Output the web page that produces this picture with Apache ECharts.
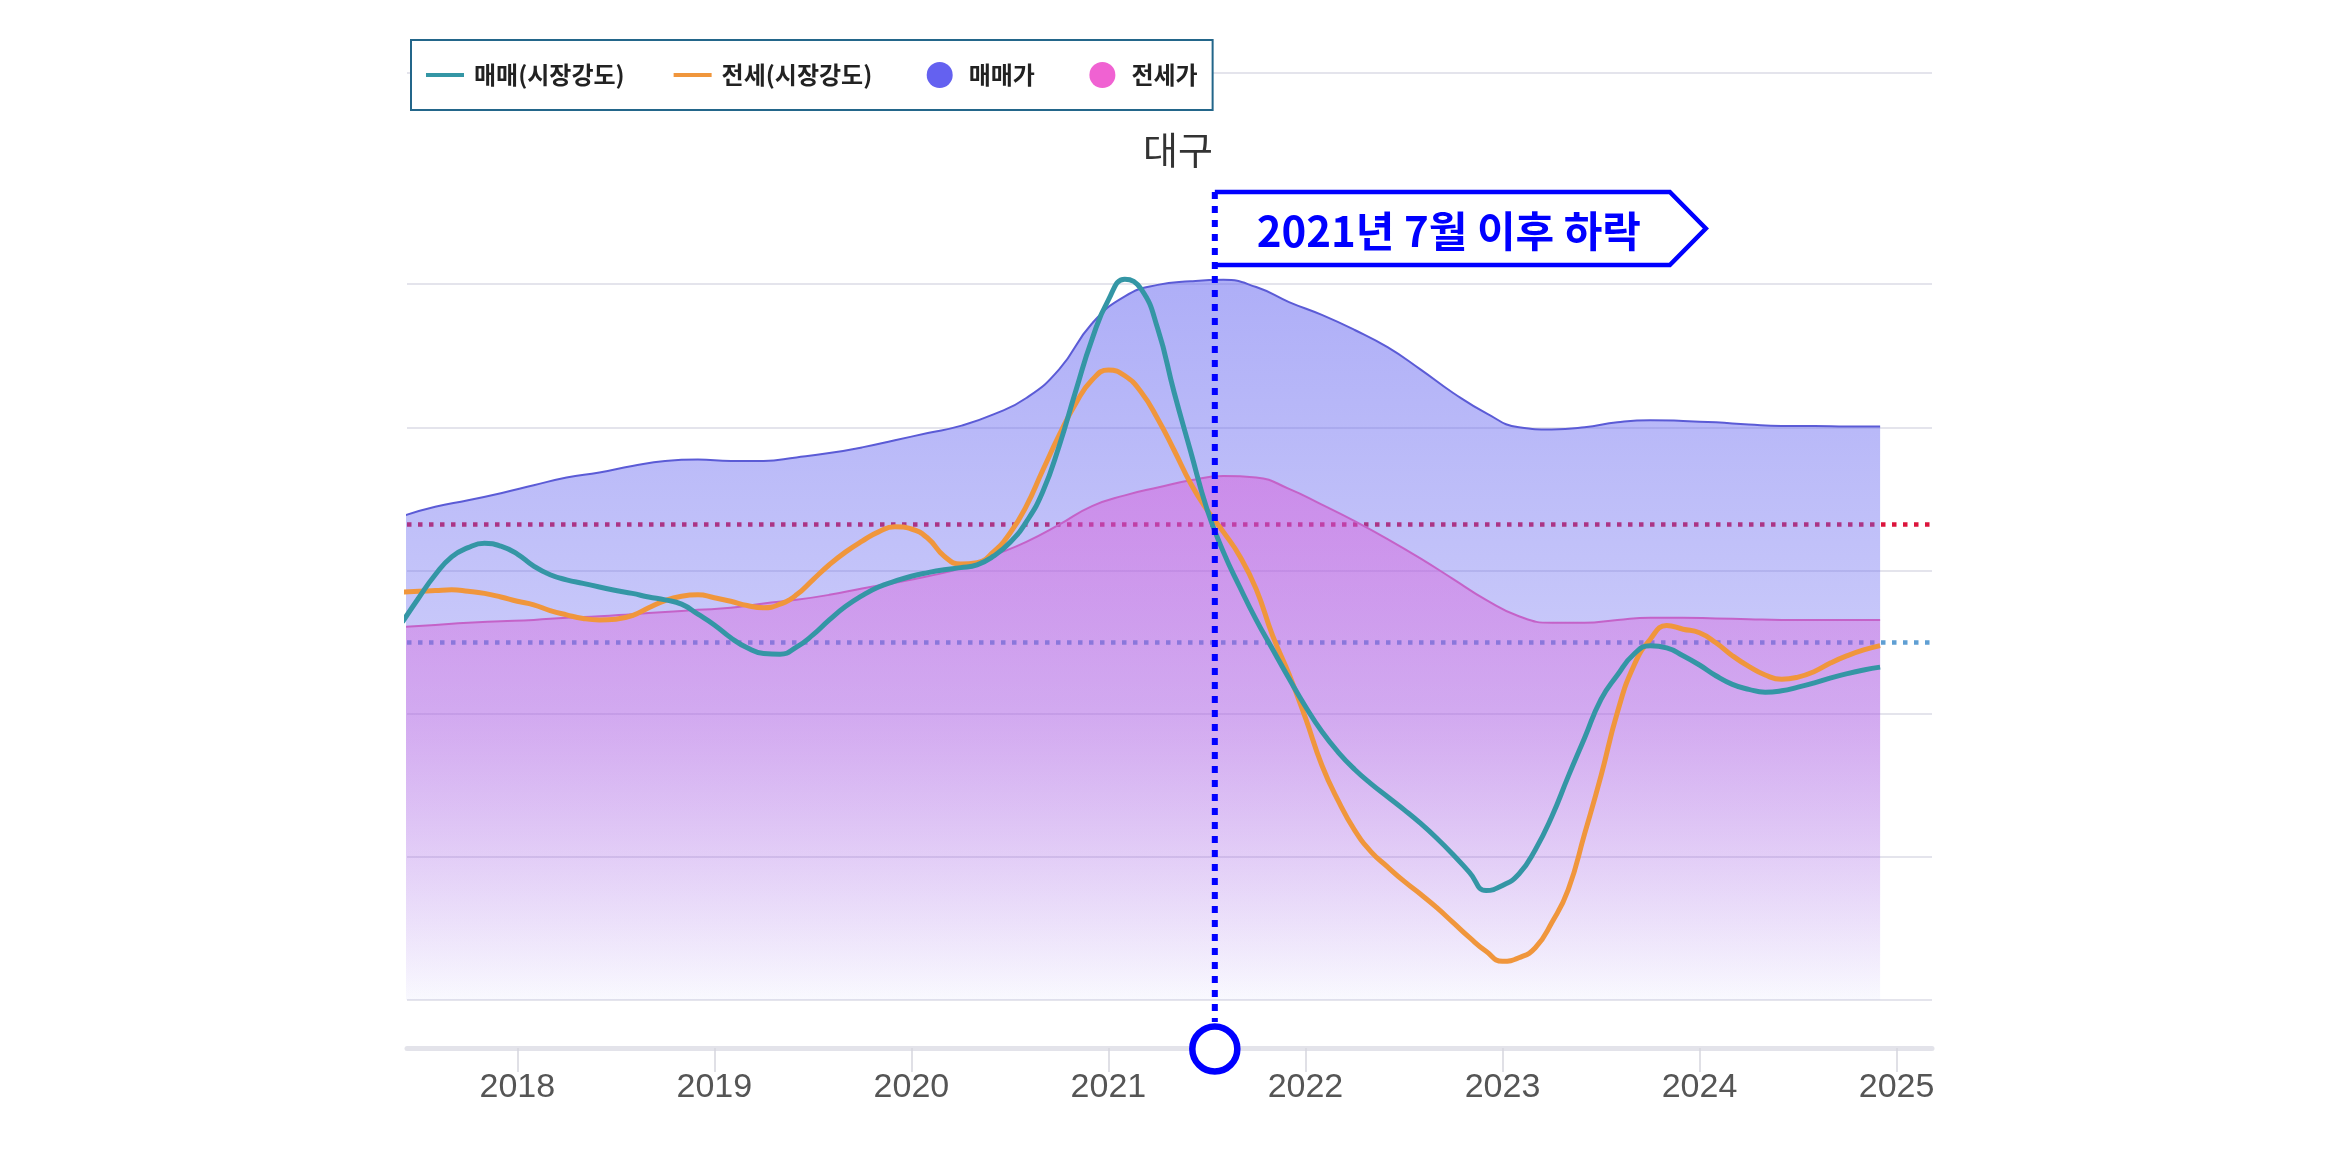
<!DOCTYPE html>
<html>
<head>
<meta charset="utf-8">
<script src="https://cdn.jsdelivr.net/npm/echarts@6/dist/echarts.min.js"></script>
<style>html,body{margin:0;padding:0;background:#fff}#c{width:2339px;height:1149px}</style>
</head>
<body>
<div id="c"></div>
<script>
// ---- data ----
// price indices (area series), every second month
const priceMonths = ['2017-06','2017-08','2017-10','2017-12',
  '2018-02','2018-04','2018-06','2018-08','2018-10','2018-12',
  '2019-02','2019-04','2019-06','2019-08','2019-10','2019-12',
  '2020-02','2020-04','2020-06','2020-08','2020-10','2020-12',
  '2021-02','2021-04','2021-06','2021-08','2021-10','2021-12',
  '2022-02','2022-04','2022-06','2022-08','2022-10','2022-12',
  '2023-02','2023-04','2023-06','2023-08','2023-10','2023-12',
  '2024-02','2024-04','2024-06','2024-08','2024-10','2024-12'];
const salePrice = [67.6,68.9,69.8,70.8,71.9,73.0,73.7,74.6,75.3,75.5,
  75.3,75.3,75.8,76.4,77.2,78.2,79.2,80.2,81.8,84.1,
  88.1,94.5,98.3,99.9,100.4,100.6,99.6,97.5,95.7,93.6,
  91.2,88.1,84.8,82.0,80.0,79.7,80.0,80.7,81.0,80.9,
  80.7,80.4,80.2,80.2,80.1,80.1];
const jeonsePrice = [52.1,52.4,52.7,52.9,53.1,53.4,53.6,53.9,54.2,54.5,
  54.8,55.4,55.9,56.6,57.5,58.3,59.2,60.3,62.1,64.0,
  66.4,69.0,70.5,71.6,72.6,73.2,73.0,71.4,69.2,66.9,
  64.4,61.7,58.8,55.9,53.6,52.7,52.7,53.1,53.4,53.4,
  53.3,53.2,53.1,53.1,53.1,53.1];
// market strength (line series), monthly from 2017-06 to 2024-12
const strengthStart = '2017-06';
const saleStrength = [52.8,56.2,59.4,61.9,63.2,63.8,63.4,62.3,60.6,59.4,
  58.7,58.2,57.7,57.2,56.8,56.3,55.9,55.3,53.9,52.4,
  50.6,49.2,48.4,48.3,49.3,51.0,53.1,55.0,56.5,57.7,
  58.5,59.2,59.7,60.1,60.4,60.8,62.0,63.9,66.8,71.0,
  77.4,85.0,92.3,97.8,100.7,99.3,93.8,84.9,76.7,68.6,
  62.6,57.7,53.1,49.0,44.9,41.0,37.5,34.6,32.2,30.2,
  28.4,26.6,24.7,22.6,20.3,17.8,15.3,16.0,17.6,21.0,
  25.6,31.2,36.6,42.0,45.4,48.3,49.5,49.2,48.1,46.8,
  45.3,44.1,43.4,43.0,43.2,43.7,44.3,45.0,45.6,46.1,
  46.5];
const jeonseStrength = [57.0,57.1,57.2,57.3,57.1,56.8,56.3,55.7,55.2,54.4,
  53.8,53.3,53.1,53.2,53.7,54.8,55.8,56.4,56.6,56.2,
  55.7,55.1,54.8,55.3,56.6,58.7,60.8,62.6,64.1,65.4,
  66.1,65.8,64.5,62.0,60.9,61.1,62.6,65.2,69.0,74.0,
  78.9,83.3,86.6,88.0,87.2,84.9,81.2,76.8,72.2,68.5,
  65.4,62.0,57.4,50.9,45.5,39.4,32.8,27.8,23.7,20.7,
  18.6,16.6,14.8,12.9,10.8,8.7,6.8,5.4,5.9,7.3,
  10.8,15.4,23.2,31.3,40.2,46.7,50.4,52.3,51.8,51.3,
  49.9,48.1,46.6,45.4,44.8,45.1,45.9,47.1,48.1,48.9,
  49.5];
const yearTicks = [2018,2019,2020,2021,2022,2023,2024,2025];
const yGridValues = [0,20,40,60,80,100,129.5];
const refLevels = [66.5, 50];
const annotationX = [2021.54];
const annotationText = '2021년 7월 이후 하락';
const titleText = '대구';
const seriesNames = ['매매(시장강도)','전세(시장강도)','매매가','전세가'];

// ---- chart ----
const toYear = s => +s.slice(0,4) + (+s.slice(5,7) - 1) / 12;
const pricePairs = arr => priceMonths.map((m, i) => [toYear(m), arr[i]]);
const monthlyPairs = arr => arr.map((v, i) => [toYear(strengthStart) + i / 12, v]);
const chart = echarts.init(document.getElementById('c'), null, {renderer: 'canvas'});
const linePath = 'path://M0,0L40,0L40,4L0,4Z';
const grad = (c, stops) => new echarts.graphic.LinearGradient(0, 0, 0, 1,
  stops.map(s => ({offset: s[0], color: 'rgba(' + c + ',' + s[1] + ')'})));

chart.setOption({
  animation: false,
  backgroundColor: '#fff',
  title: {
    text: titleText, left: 1143, top: 131, padding: 0,
    textStyle: {fontSize: 38, fontWeight: 'normal', color: '#333', fontFamily: '"Noto Sans CJK KR", sans-serif'}
  },
  legend: {
    left: 411, top: 40, orient: 'horizontal',
    padding: [22, 15, 22, 15],
    borderColor: '#23668a', borderWidth: 2, backgroundColor: '#fff',
    itemWidth: 38, itemHeight: 26, itemGap: 49,
    selectedMode: false,
    itemStyle: {borderWidth: 0},
    formatter: name => (name === seriesNames[1] || name === seriesNames[2]) ? name + ' ' : name,
    textStyle: {fontSize: 24, fontWeight: 'bold', color: '#222',
      fontFamily: '"Noto Sans CJK KR", sans-serif', padding: [0, 0, 0, 5]},
    data: [
      {name: seriesNames[0], icon: linePath},
      {name: seriesNames[1], icon: linePath},
      {name: seriesNames[2], icon: 'circle'},
      {name: seriesNames[3], icon: 'circle'}
    ]
  },
  grid: {left: 407, right: 407, top: 73, bottom: 149, containLabel: false, outerBoundsMode: 'none'},
  xAxis: {
    type: 'value', min: 2017.44, max: 2025.18, offset: 48,
    axisLine: {show: true, onZero: false, lineStyle: {color: '#e3e3ea', width: 5}},
    axisTick: {show: true, length: 24, customValues: yearTicks, lineStyle: {color: '#d6d6de', width: 1.5}},
    axisLabel: {
      customValues: yearTicks, margin: 23,
      formatter: v => String(Math.round(v)),
      fontSize: 34, color: '#555',
      fontFamily: '"Liberation Sans Narrow", "Liberation Sans", sans-serif'
    },
    splitLine: {show: false}
  },
  yAxis: {
    type: 'value', min: 0, max: 129.5,
    axisLine: {show: false},
    axisTick: {show: false, customValues: yGridValues},
    axisLabel: {show: false},
    splitLine: {show: true, lineStyle: {color: '#e4e4ec', width: 2}}
  },
  series: [
    {
      name: seriesNames[2], type: 'line', smooth: true, showSymbol: false, symbol: 'none', z: 2,
      data: pricePairs(salePrice),
      itemStyle: {color: '#6461f0'},
      lineStyle: {color: '#5b5bd6', width: 2},
      areaStyle: {opacity: 1, color: grad('100,100,240', [[0, 0.52], [0.6, 0.32], [1, 0.04]])},
      markLine: {
        silent: true, z: 1, symbol: ['none', 'none'], label: {show: false}, animation: false,
        emphasis: {disabled: true},
        data: [
          {yAxis: refLevels[0], lineStyle: {color: '#dc143c', width: 4.5, type: [4.5, 6.5]}},
          {yAxis: refLevels[1], lineStyle: {color: '#5f9fd3', width: 4.5, type: [4.5, 6.5]}}
        ]
      }
    },
    {
      name: seriesNames[3], type: 'line', smooth: true, showSymbol: false, symbol: 'none', z: 3,
      data: pricePairs(jeonsePrice),
      itemStyle: {color: '#f062d2'},
      lineStyle: {color: '#c462c8', width: 2},
      areaStyle: {opacity: 1, color: grad('222,80,215', [[0, 0.44], [0.5, 0.27], [1, 0.0]])}
    },
    {
      name: seriesNames[0], type: 'line', smooth: true, showSymbol: false, symbol: 'none', z: 5,
      data: monthlyPairs(saleStrength),
      itemStyle: {color: '#3496a5'},
      lineStyle: {color: '#3496a5', width: 5}
    },
    {
      name: seriesNames[1], type: 'line', smooth: true, showSymbol: false, symbol: 'none', z: 4,
      data: monthlyPairs(jeonseStrength),
      itemStyle: {color: '#f0963c'},
      lineStyle: {color: '#f0963c', width: 5}
    },
    {
      name: 'annotation', type: 'custom', z: 10, silent: true, clip: false,
      data: annotationX.map(v => [v, 0]),
      encode: {x: 0, y: 1},
      renderItem: (params, api) => {
        const p = api.coord([api.value(0), 0]);
        const x = p[0];
        const axisY = p[1] + 48;
        const top = 192, bot = 265, mid = (top + bot) / 2;
        const pts = [[x, top], [x + 455, top], [x + 491, mid], [x + 455, bot], [x, bot]];
        return {
          type: 'group',
          children: [
            {type: 'polygon', shape: {points: pts}, style: {fill: '#fff', stroke: null}},
            {type: 'polyline', shape: {points: pts}, style: {stroke: '#0000ff', lineWidth: 4.5, fill: null}},
            {type: 'line', shape: {x1: x, y1: top, x2: x, y2: axisY - 26},
              style: {stroke: '#0000ff', lineWidth: 6, lineDash: [7, 7]}},
            {type: 'circle', shape: {cx: x, cy: axisY + 1, r: 22.5},
              style: {fill: '#fff', stroke: '#0000ff', lineWidth: 6.5}},
            {type: 'text', x: x + 234, y: mid + 3,
              style: {text: annotationText, fill: '#0000ff', fontSize: 42, fontWeight: 'bold',
                fontFamily: '"Noto Sans CJK KR", sans-serif', align: 'center', verticalAlign: 'middle'}}
          ]
        };
      }
    }
  ]
});
</script>
</body>
</html>
